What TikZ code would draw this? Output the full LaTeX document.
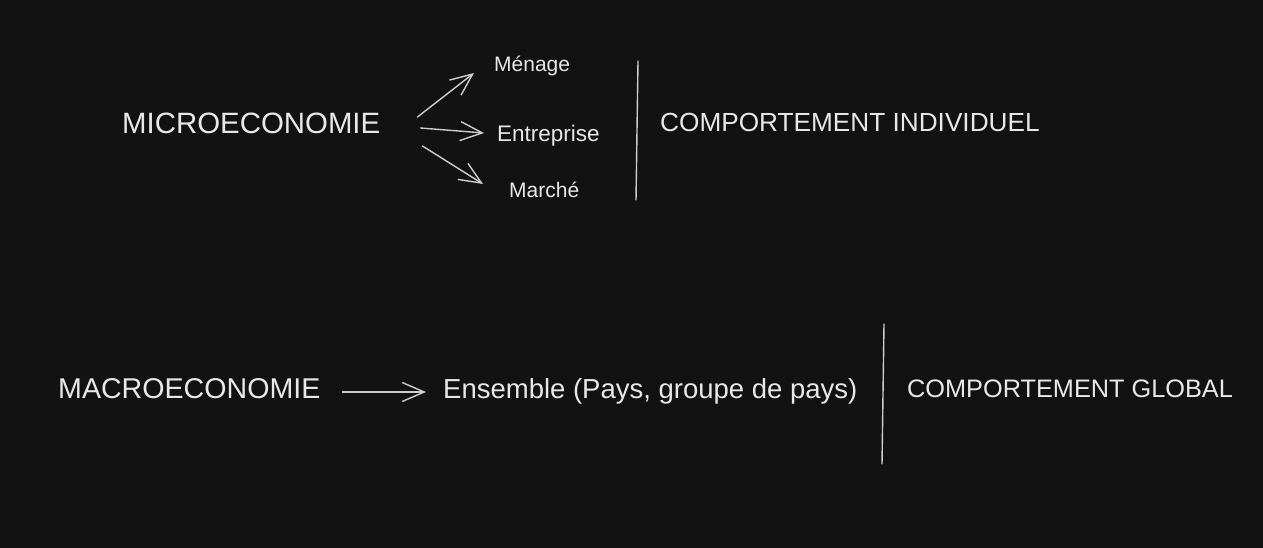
\documentclass[tikz,border=0pt]{standalone}
\usepackage{fontspec}
\setmainfont{Liberation Sans}
\usepackage{tikz}
\usetikzlibrary{positioning, arrows.meta, calc}
\definecolor{fond}{HTML}{121212}
\definecolor{craie}{HTML}{E8E8E8}
\definecolor{gris}{HTML}{CDCDCD}
\tikzstyle{dom}=[%
      text=craie, inner sep=0pt, anchor=base west, font=\fontsize{29.4}{32}\selectfont
]
\tikzstyle{cpt}=[%
      text=craie, inner sep=0pt, anchor=base west, font=\fontsize{26.2}{30}\selectfont
]
\tikzstyle{sub}=[%
      text=craie, inner sep=0pt, anchor=base west, font=\fontsize{21}{24}\selectfont
]
\tikzstyle{ens}=[%
      text=craie, inner sep=0pt, anchor=base west, font=\fontsize{27.5}{30}\selectfont
]
\tikzstyle{fl}=[%
      draw=gris, line width=1.4pt, ->, line cap=round
]
\tikzstyle{sep}=[%
      draw=gris, line width=1.4pt, line cap=round
]

\begin{document}
\begin{tikzpicture}[x=1pt, y=-1pt,
    >={Straight Barb[length=22pt, width=19pt, line width=1.4pt]}
  ]
    \fill[fond] (0,0) rectangle (1263,548);
    \useasboundingbox (0,0) rectangle (1263,548);

    % micro
    \node[dom] (micro)      at (122,134) {MICROECONOMIE};
    \node[sub] (menage)     at (494,72)  {Ménage};
    \node[sub, font=\fontsize{22.5}{24}\selectfont] (entreprise) at (497,142) {Entreprise};
    \node[sub] (marche)     at (509,197) {Marché};
    \node[cpt] (indiv)      at (660,132) {COMPORTEMENT INDIVIDUEL};

    \coordinate (s1h) at (638,61);
    \coordinate (s1b) at (636,200);
    \draw[sep] (s1h) -- (s1b);

    \draw[fl] ($(micro.base east)+(37,-17)$) -- ($(menage.base west)+(-20,1)$);
    \draw[fl] ($(micro.base east)+(40,-6)$)  -- ($(entreprise.base west)+(-13,-9)$);
    \draw[fl] ($(micro.base east)+(42,12)$)  -- ($(marche.base west)+(-26,-13)$);

    % macro
    \node[dom, font=\fontsize{28.6}{32}\selectfont] (macro) at (58,398) {MACROECONOMIE};
    \node[ens] (ensemble) at (443,398) {Ensemble (Pays, groupe de pays)};
    \node[cpt, font=\fontsize{25.3}{28}\selectfont] (global) at (907,397) {COMPORTEMENT GLOBAL};

    \coordinate (s2h) at (884,324);
    \coordinate (s2b) at (882,464);
    \draw[sep] (s2h) -- (s2b);

    \draw[fl] ($(macro.base east)+(22,-6)$) -- ($(ensemble.base west)+(-17,-6)$);
  \end{tikzpicture}
\end{document}
